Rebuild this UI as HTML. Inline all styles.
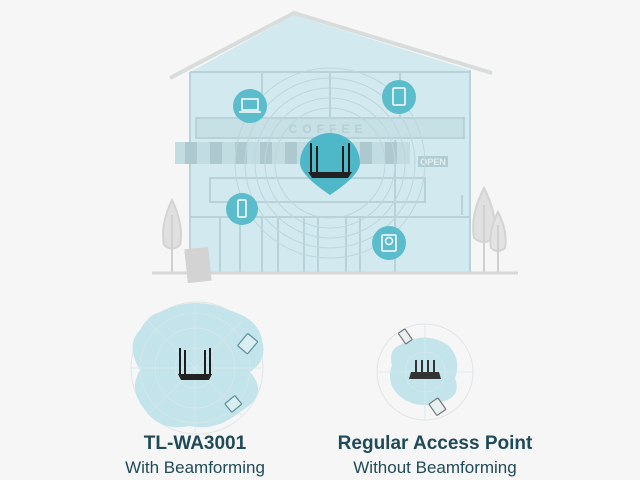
<!DOCTYPE html>
<html><head><meta charset="utf-8"><style>
html,body{margin:0;padding:0;background:#f6f6f6;width:640px;height:480px;overflow:hidden}
.t{position:absolute;font-family:"Liberation Sans",sans-serif;color:#1f4a57;text-align:center;white-space:nowrap}
</style></head><body>
<svg width="640" height="480" style="position:absolute;left:0;top:0">
<g stroke="#c9d9dc" stroke-width="2" fill="none">
<path d="M172 200 Q160 225 164 245 Q172 252 180 245 Q184 225 172 200Z" fill="#e0e0e0" stroke="#d4d4d4"/>
<line x1="172" y1="215" x2="172" y2="272" stroke="#d0d0d0"/>
<path d="M484 188 Q470 215 474 238 Q484 246 494 238 Q498 215 484 188Z" fill="#e0e0e0" stroke="#d4d4d4"/>
<path d="M498 212 Q488 232 491 248 Q498 254 505 248 Q508 232 498 212Z" fill="#e3e3e3" stroke="#d4d4d4"/>
<line x1="484" y1="205" x2="484" y2="272" stroke="#d0d0d0"/>
<line x1="498" y1="225" x2="498" y2="272" stroke="#d0d0d0"/>
</g>
<polygon points="190,72 294,15 470,70 470,272 190,272" fill="#d2eaef"/>
<polyline points="170,78 294,13 492,73" fill="none" stroke="#d8dcdc" stroke-width="4"/>
<g stroke="#b7d3d9" stroke-width="2" fill="none">
<line x1="190" y1="72" x2="190" y2="272"/><line x1="470" y1="70" x2="470" y2="272"/>
<line x1="190" y1="72" x2="470" y2="72"/>
<line x1="262" y1="72" x2="262" y2="118"/><line x1="330" y1="72" x2="330" y2="118"/><line x1="400" y1="72" x2="400" y2="118"/>
<rect x="196" y="118" width="268" height="20" fill="#c6e0e6"/>
<rect x="210" y="178" width="215" height="24"/>
<line x1="190" y1="217" x2="470" y2="217"/>
<line x1="220" y1="217" x2="220" y2="272"/><line x1="240" y1="217" x2="240" y2="272"/>
<line x1="262" y1="217" x2="262" y2="272"/><line x1="278" y1="217" x2="278" y2="272"/>
<line x1="304" y1="217" x2="304" y2="272"/><line x1="318" y1="217" x2="318" y2="272"/>
<line x1="346" y1="217" x2="346" y2="272"/><line x1="360" y1="217" x2="360" y2="272"/>
<line x1="395" y1="140" x2="395" y2="272"/>
<line x1="462" y1="195" x2="462" y2="215"/>
</g>
<rect x="175" y="142" width="235" height="22" fill="#c2dce2"/>
<g fill="#adc8ce"><rect x="185" y="142" width="12" height="22"/><rect x="210" y="142" width="12" height="22"/><rect x="235" y="142" width="12" height="22"/><rect x="260" y="142" width="12" height="22"/><rect x="285" y="142" width="12" height="22"/><rect x="360" y="142" width="12" height="22"/><rect x="385" y="142" width="12" height="22"/></g>
<rect x="418" y="156" width="30" height="11" fill="#b0cdd3"/>
<text x="433" y="165" font-family="Liberation Sans" font-size="9" font-weight="bold" fill="#e4eff2" text-anchor="middle">OPEN</text>
<text x="328" y="133" font-family="Liberation Sans" font-size="12" font-weight="bold" fill="#b5cfd5" text-anchor="middle" letter-spacing="5">COFFEE</text>
<line x1="152" y1="273" x2="518" y2="273" stroke="#d8d8d8" stroke-width="3"/>
<rect x="186" y="248" width="24" height="34" fill="#d3d3d3" transform="rotate(-6 198 265)"/>
<g fill="none" stroke="#bcd6dc" stroke-width="1">
<circle cx="330" cy="163" r="55"/><circle cx="330" cy="163" r="65"/><circle cx="330" cy="163" r="75"/><circle cx="330" cy="163" r="85"/><circle cx="330" cy="163" r="95"/>
</g>
<g fill="#5bbccb">
<circle cx="250" cy="106" r="17"/><circle cx="399" cy="97" r="17"/><circle cx="242" cy="209" r="16"/><circle cx="389" cy="243" r="17"/>
<path d="M330 195 Q300 175 300 163 A30 30 0 1 1 360 163 Q360 175 330 195Z" fill="#4fb8c8"/>
</g>
<g fill="none" stroke="#fff" stroke-width="1.5">
<rect x="242" y="99" width="16" height="11"/><line x1="239" y1="112" x2="261" y2="112"/>
<rect x="393" y="88" width="12" height="17" rx="1"/>
<rect x="238" y="200" width="8" height="17" rx="1"/>
<rect x="382" y="235" width="14" height="16" rx="1"/><circle cx="389" cy="241" r="3.5"/>
</g>
<g stroke="#1d1d1d" stroke-width="2"><line x1="311" y1="143" x2="311" y2="172"/><line x1="317" y1="146" x2="317" y2="172"/><line x1="343" y1="146" x2="343" y2="172"/><line x1="349" y1="143" x2="349" y2="172"/></g>
<path d="M308 172 L352 172 L348 178 L312 178Z" fill="#222"/>
<circle cx="197" cy="368" r="66" fill="none" stroke="#dfe6e7"/>
<path d="M160 312 Q195 295 228 310 Q258 318 262 340 Q268 360 250 372 Q270 395 240 412 Q215 432 190 426 Q160 432 145 410 Q128 390 140 370 Q125 345 140 330 Q148 315 160 312Z" fill="#c3e4ea"/>
<g fill="none" stroke="#d6e8ec" stroke-width="0.8">
<circle cx="195" cy="368" r="20"/><circle cx="195" cy="368" r="40"/><circle cx="195" cy="368" r="55"/>
<line x1="130" y1="368" x2="262" y2="368"/><line x1="195" y1="302" x2="195" y2="432"/><line x1="148" y1="321" x2="242" y2="415"/><line x1="242" y1="321" x2="148" y2="415"/>
</g>
<g stroke="#1d1d1d" stroke-width="2"><line x1="180" y1="348" x2="180" y2="374"/><line x1="185" y1="350" x2="185" y2="374"/><line x1="205" y1="350" x2="205" y2="374"/><line x1="210" y1="348" x2="210" y2="374"/></g>
<path d="M178 374 L212 374 L209 380 L181 380Z" fill="#222"/>
<g fill="#d9eef2" stroke="#5e8f98" stroke-width="1.2">
<rect x="241" y="336" width="13" height="16" rx="1" transform="rotate(40 248 344)"/>
<rect x="228" y="398" width="11" height="13" rx="1" transform="rotate(50 234 404)"/>
</g>
<circle cx="425" cy="372" r="48" fill="none" stroke="#dfe6e7"/>
<path d="M400 345 Q425 330 448 345 Q462 360 455 378 Q462 398 440 402 Q420 410 402 398 Q385 385 392 365 Q388 350 400 345Z" fill="#c3e4ea"/>
<g fill="none" stroke="#d6e8ec" stroke-width="0.8"><circle cx="425" cy="372" r="20"/><line x1="377" y1="372" x2="473" y2="372"/><line x1="425" y1="324" x2="425" y2="420"/></g>
<g stroke="#333" stroke-width="2"><line x1="416" y1="360" x2="416" y2="372"/><line x1="422" y1="360" x2="422" y2="372"/><line x1="428" y1="360" x2="428" y2="372"/><line x1="434" y1="360" x2="434" y2="372"/></g>
<path d="M411 372 L439 372 L441 379 L409 379Z" fill="#333"/>
<g fill="#e8f0f1" stroke="#777" stroke-width="1.2">
<rect x="401" y="330" width="8" height="13" rx="1" transform="rotate(-35 405 336)"/>
<rect x="432" y="400" width="11" height="14" rx="1" transform="rotate(-35 437 407)"/>
</g>
</svg>
<div class="t" style="left:95px;top:433px;width:200px;font-size:19px;font-weight:bold">TL-WA3001</div>
<div class="t" style="left:95px;top:458px;width:200px;font-size:17px">With Beamforming</div>
<div class="t" style="left:335px;top:433px;width:200px;font-size:19px;font-weight:bold">Regular Access Point</div>
<div class="t" style="left:335px;top:458px;width:200px;font-size:17px">Without Beamforming</div>
</body></html>
